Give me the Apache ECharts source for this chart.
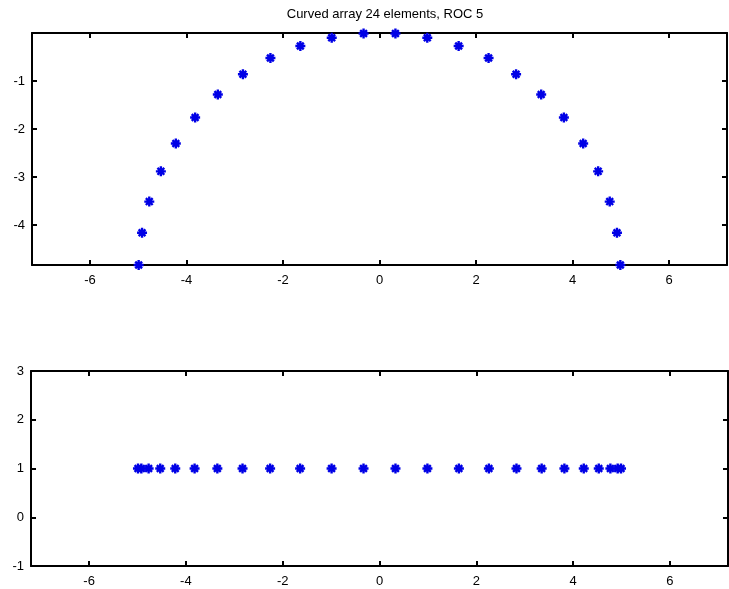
<!DOCTYPE html>
<html>
<head>
<meta charset="utf-8">
<script src="https://cdn.jsdelivr.net/npm/echarts@6/dist/echarts.min.js"></script>
<style>
  html, body { margin: 0; padding: 0; background: #fff; }
  #chart { width: 729px; height: 589px; }
</style>
</head>
<body>
<div id="chart"></div>
<script>
// Element positions of the curved array (ROC 5), left to right
const curvedX = [-4.99, -4.92, -4.77, -4.53, -4.22, -3.82, -3.35, -2.83, -2.26, -1.64, -0.99, -0.33,
                  0.33,  0.99,  1.64,  2.26,  2.83,  3.35,  3.82,  4.22,  4.53,  4.77,  4.92,  4.99];
const curvedY = [-4.83, -4.16, -3.51, -2.88, -2.30, -1.76, -1.28, -0.86, -0.52, -0.27, -0.10, -0.01,
                 -0.01, -0.10, -0.27, -0.52, -0.86, -1.28, -1.76, -2.30, -2.88, -3.51, -4.16, -4.83];
// Projection of the same elements onto a line
const lineY = [1, 1, 1, 1, 1, 1, 1, 1, 1, 1, 1, 1, 1, 1, 1, 1, 1, 1, 1, 1, 1, 1, 1, 1];

const xTicks = [-6, -4, -2, 0, 2, 4, 6];
const topYTicks = [-4, -3, -2, -1];
const bottomYTicks = [-1, 0, 1, 2, 3];

const titleText = 'Curved array 24 elements, ROC 5';

const asterisk = 'path://M5,0L5,10M0,5L10,5M1.6,1.6L8.4,8.4M1.6,8.4L8.4,1.6';
const font = 'Arial, "Liberation Sans", sans-serif';
const markerBlue = '#0000e6';

function pairs(xs, ys) { return xs.map((x, i) => [x, ys[i]]); }

function xAxisPair(gridIndex, min, max) {
  const base = {
    gridIndex, type: 'value', min, max,
    axisLine: { show: true, onZero: false, lineStyle: { color: '#000', width: 2 } },
    axisTick: { show: true, inside: true, length: 5, customValues: xTicks, lineStyle: { color: '#000', width: 2 } },
    splitLine: { show: false }
  };
  return [
    Object.assign({}, base, { position: 'bottom',
      axisLabel: { show: true, customValues: xTicks, color: '#000', fontSize: 13, fontFamily: font, margin: 9 } }),
    Object.assign({}, base, { position: 'top', axisLabel: { show: false } })
  ];
}

function yAxisPair(gridIndex, min, max, ticks) {
  const base = {
    gridIndex, type: 'value', min, max,
    axisLine: { show: true, onZero: false, lineStyle: { color: '#000', width: 2 } },
    axisTick: { show: true, inside: true, length: 5, customValues: ticks, lineStyle: { color: '#000', width: 2 } },
    splitLine: { show: false }
  };
  return [
    Object.assign({}, base, { position: 'left',
      axisLabel: { show: true, customValues: ticks, color: '#000', fontSize: 13, fontFamily: font, margin: 7 } }),
    Object.assign({}, base, { position: 'right', axisLabel: { show: false } })
  ];
}

const markerSeries = (xi, yi, data) => ({
  type: 'scatter', xAxisIndex: xi, yAxisIndex: yi, data,
  symbol: asterisk, symbolSize: 10,
  itemStyle: { color: markerBlue, borderColor: markerBlue, borderWidth: 2.4, opacity: 1 },
  emphasis: { disabled: true }, silent: true
});

const chart = echarts.init(document.getElementById('chart'), null, { renderer: 'canvas' });
chart.setOption({
  animation: false,
  backgroundColor: '#fff',
  title: {
    text: titleText, left: 380, top: 3, textAlign: 'center',
    textStyle: { color: '#000', fontSize: 13, fontWeight: 'normal', fontFamily: font }
  },
  grid: [
    { left: 32, top: 33, width: 695, height: 232 },
    { left: 31, top: 371, width: 697, height: 195 }
  ],
  xAxis: [].concat(xAxisPair(0, -7.2, 7.2), xAxisPair(1, -7.2, 7.2)),
  yAxis: [].concat(yAxisPair(0, -4.83, 0, topYTicks), yAxisPair(1, -1, 3, bottomYTicks)),
  series: [
    markerSeries(0, 0, pairs(curvedX, curvedY)),
    markerSeries(2, 2, pairs(curvedX, lineY))
  ]
});
</script>
</body>
</html>
